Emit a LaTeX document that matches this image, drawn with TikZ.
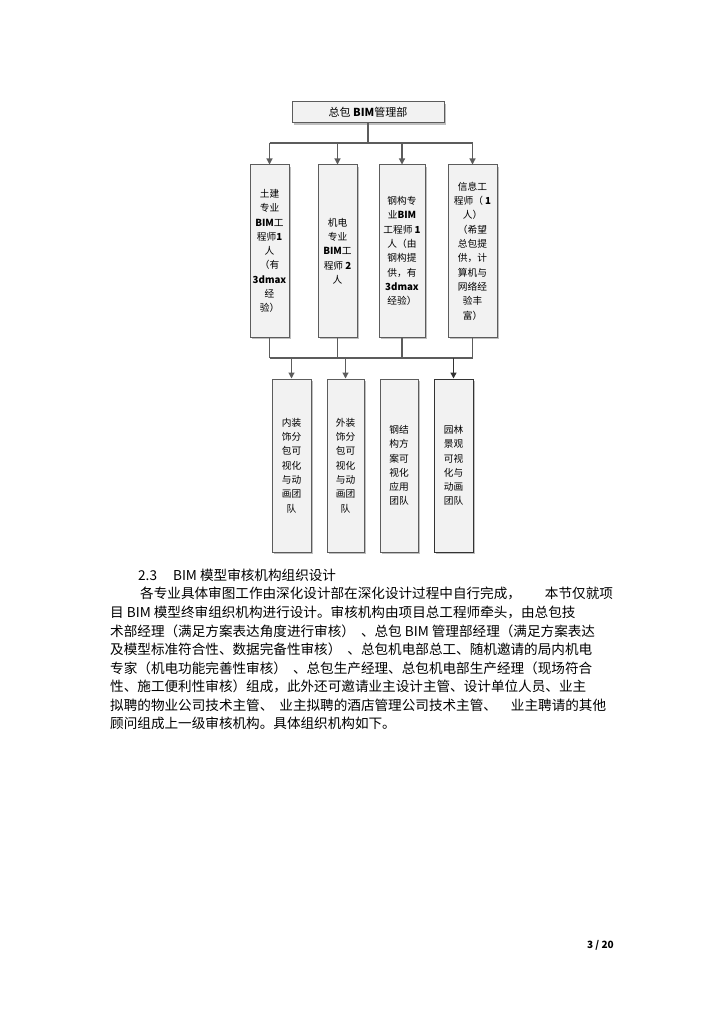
\documentclass[tikz,border=0pt]{standalone}
\usepackage{fontspec}
\setmainfont{Noto Sans CJK SC}
\usetikzlibrary{arrows.meta, shadows}
\definecolor{ink}{HTML}{5C5C5C}
\definecolor{darkink}{HTML}{333333}
\definecolor{boxbg}{HTML}{F2F2F2}
\tikzset{
  box/.style={
    draw=ink,
    fill=boxbg,
    line width=1pt,
    inner sep=0pt,
    align=center,
    font=\fontsize{9.7}{14.3}\selectfont,
    drop shadow={shadow xshift=1.6pt, shadow yshift=-1.6pt, fill=black, opacity=0.25}
  },
  head/.style={box, minimum width=152pt, minimum height=21pt, font=\fontsize{11}{13}\selectfont},
  staff/.style={box, minimum height=172pt},
  team/.style={box, minimum height=173pt},
  line/.style={draw=ink, line width=1.1pt},
  arrow/.style={line, -{Triangle[length=6pt, width=6pt]}},
  para/.style={anchor=west, inner sep=0pt, font=\fontsize{13.6}{16}\selectfont}
}

\begin{document}
\begin{tikzpicture}[x=1pt, y=-1pt]
\useasboundingbox (0,0) rectangle (724,1024);

% organisation chart
\node[head] (bim) at (368,112.5) {总包 \textbf{BIM}管理部};

\node[staff, minimum width=39pt] (civil) at (269.5,251) {
  土建\\专业\\\textbf{BIM}工\\程师\textbf{1}\\人\\（有\\\textbf{3dmax}\\经\\验）
};
\node[staff, minimum width=39pt] (mep) at (337.5,251) {
  机电\\专业\\\textbf{BIM}工\\程师 \textbf{2}\\人
};
\node[staff, minimum width=46pt] (steel) at (402,251) {
  钢构专\\业\textbf{BIM}\\工程师 \textbf{1}\\人（由\\钢构提\\供，有\\\textbf{3dmax}\\经验）
};
\node[staff, minimum width=49pt] (info) at (472.5,251) {
  信息工\\程师（ \textbf{1}\\人）\\（希望\\总包提\\供，计\\算机与\\网络经\\验丰\\富）
};

\node[team, minimum width=39pt] (fitout) at (291.5,465.5) {
  内装\\饰分\\包可\\视化\\与动\\画团\\队
};
\node[team, minimum width=37pt] (facade) at (345.5,465.5) {
  外装\\饰分\\包可\\视化\\与动\\画团\\队
};
\node[team, minimum width=38pt] (steelviz) at (399,465.5) {
  钢结\\构方\\案可\\视化\\应用\\团队
};
\node[team, minimum width=39pt, draw=darkink] (garden) at (453.5,465.5) {
  园林\\景观\\可视\\化与\\动画\\团队
};

\coordinate (bus1) at (0,143);
\coordinate (bus2) at (0,358);

\draw[line] (bim.south) -- (bim.south |- bus1);
\draw[line] (bus1 -| civil.north) -- (bus1 -| info.north);
\foreach \n in {civil, mep, steel, info}
  \draw[arrow] (bus1 -| \n.north) -- (\n.north);

\foreach \n in {civil, mep, steel, info}
  \draw[line] (\n.south) -- (\n.south |- bus2);
\draw[line] (bus2 -| civil.south) -- (bus2 -| info.south);
\foreach \n in {fitout, facade}
  \draw[arrow] (bus2 -| \n.north) -- (\n.north);
\draw[arrow, draw=darkink, line width=1.5pt] (bus2 -| garden.north) -- (garden.north);

% body text
\node[para] (sec) at (138,575) {2.3\hspace{16pt}BIM 模型审核机构组织设计};
\node[para] (l1) at (140,593) {各专业具体审图工作由深化设计部在深化设计过程中自行完成，\hspace{24pt}本节仅就项};
\node[para] (l2) at (110,612) {目 BIM 模型终审组织机构进行设计。审核机构由项目总工程师牵头，由总包技};
\node[para] (l3) at (110,631) {术部经理（满足方案表达角度进行审核）\hspace{6pt}、总包 BIM 管理部经理（满足方案表达};
\node[para] (l4) at (110,649) {及模型标准符合性、数据完备性审核）\hspace{6pt}、总包机电部总工、随机邀请的局内机电};
\node[para] (l5) at (110,668) {专家（机电功能完善性审核）\hspace{6pt}、总包生产经理、总包机电部生产经理（现场符合};
\node[para] (l6) at (110,686) {性、施工便利性审核）组成，此外还可邀请业主设计主管、设计单位人员、业主};
\node[para] (l7) at (110,705) {拟聘的物业公司技术主管、\hspace{6pt}业主拟聘的酒店管理公司技术主管、\hspace{14pt}业主聘请的其他};
\node[para] (l8) at (110,723) {顾问组成上一级审核机构。具体组织机构如下。};

\node[anchor=east, inner sep=0pt, font=\fontsize{10}{12}\selectfont\bfseries] (page) at (614,945) {3 / 20};

\end{tikzpicture}
\end{document}
